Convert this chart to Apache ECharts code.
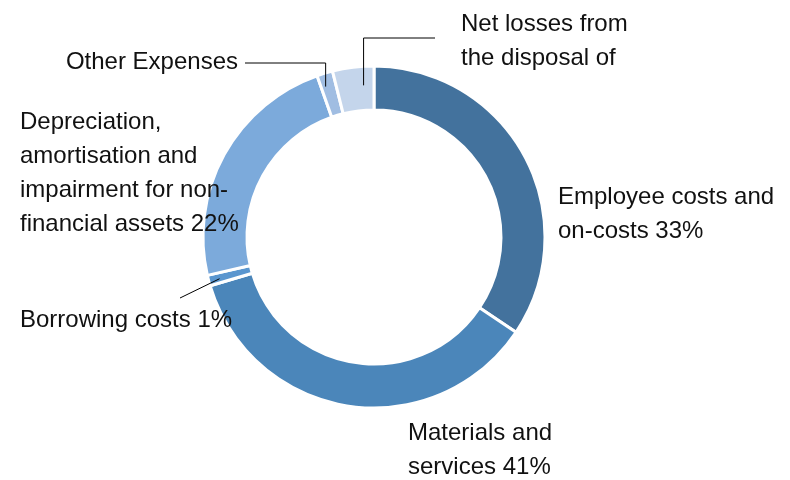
<!DOCTYPE html>
<html>
<head>
<meta charset="utf-8">
<script src="https://cdn.jsdelivr.net/npm/echarts@6/dist/echarts.min.js"></script>
<style>
html,body{margin:0;padding:0;background:#fff;}
#chart{width:790px;height:480px;}
</style>
</head>
<body>
<div id="chart"></div>
<script>
// Categories in clockwise order starting at 12 o'clock
const categories = ['Employee costs and on-costs', 'Materials and services', 'Borrowing costs',
  'Depreciation, amortisation and impairment for non-financial assets', 'Other Expenses',
  'Net losses from the disposal of'];
const values = [34.4, 36.0, 1.0, 23.2, 1.5, 3.9];
// Percent shown in the data labels
const shownPct = [33, 41, 1, 22, null, null];
// Label text lines (wrapped as in the reference)
const labelLines = [
  ['Employee costs and', 'on-costs'],
  ['Materials and', 'services'],
  ['Borrowing costs'],
  ['Depreciation,', 'amortisation and', 'impairment for non-', 'financial assets'],
  ['Other Expenses'],
  ['Net losses from', 'the disposal of']
];
const colors = ['#43729D', '#4B86BA', '#5A96CF', '#7CAADB', '#A0BDE2', '#C4D5EB'];

// layout
const CX = 374, CY = 237, R_IN = 127, R_OUT = 171;
const labelPos = [
  [558, 180, 'left'],
  [408, 416, 'left'],
  [20, 303, 'left'],
  [20, 105, 'left'],
  [238, 45, 'right'],
  [461, 7, 'left']
];

function labelText(i) {
  const lines = labelLines[i].slice();
  if (shownPct[i] != null) lines[lines.length - 1] += ' ' + shownPct[i] + '%';
  return lines.join('\n');
}

const total = values.reduce((a, b) => a + b, 0);
function anchor(i, r, frac) {
  let cum = 0;
  for (let k = 0; k < i; k++) cum += values[k];
  const a = (cum + values[i] * frac) / total * 2 * Math.PI;
  return [CX + r * Math.sin(a), CY - r * Math.cos(a)];
}

const aNet = anchor(5, 152, 0.72), aOther = anchor(4, 158, 0.3), aBor = anchor(2, 160, 0.4);
const leaders = [
  [aNet, [aNet[0], 38], [435, 38]],
  [aOther, [aOther[0], 63], [245, 63]],
  [aBor, [180, 298]]
];

const chart = echarts.init(document.getElementById('chart'), null, {renderer: 'canvas'});
chart.setOption({
  animation: false,
  backgroundColor: '#ffffff',
  color: colors,
  series: [{
    type: 'pie',
    center: [CX, CY],
    radius: [R_IN, R_OUT],
    startAngle: 90,
    clockwise: true,
    avoidLabelOverlap: false,
    silent: true,
    itemStyle: {borderColor: '#ffffff', borderWidth: 3},
    label: {
      show: true,
      position: 'outside',
      formatter: p => labelText(p.dataIndex),
      fontFamily: 'Liberation Sans',
      fontSize: 24,
      lineHeight: 34,
      color: '#111111'
    },
    labelLine: {show: false},
    labelLayout: function (params) {
      const p = labelPos[params.dataIndex];
      return {x: p[0], y: p[1], align: p[2], verticalAlign: 'top'};
    },
    data: categories.map((c, i) => ({name: c, value: values[i]}))
  }],
  graphic: leaders.map(pts => ({
    type: 'polyline',
    shape: {points: pts},
    style: {stroke: '#000000', lineWidth: 1, fill: null},
    z: 10
  }))
});
</script>
</body>
</html>
